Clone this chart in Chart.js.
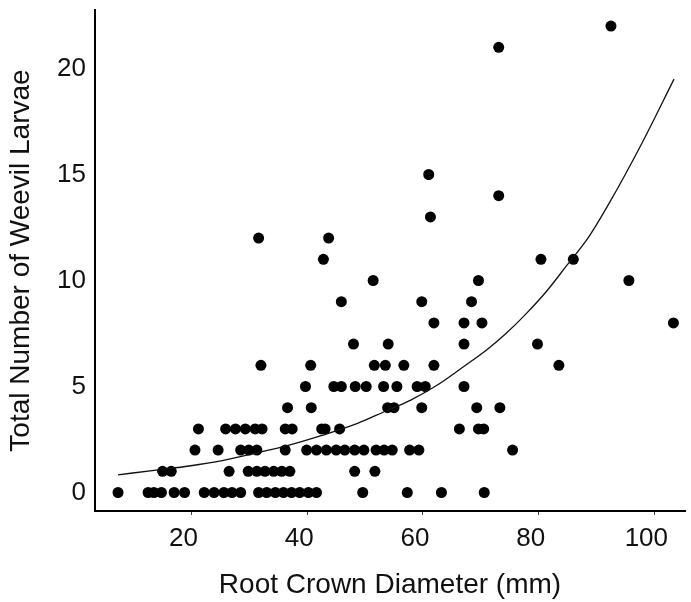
<!DOCTYPE html>
<html>
<head>
<meta charset="utf-8">
<title>Weevil larvae vs root crown diameter</title>
<script src="https://cdn.jsdelivr.net/npm/chart.js@4"></script>
<style>
    body { margin: 0; background: #fff; }
    #box { width: 691px; height: 602px; }
</style>
</head>
<body>
<div id="box"><canvas id="grafico"></canvas></div>
<script>
// Larvae counts (one row of dots per count) and the diameters read for each row
const larvaeLevels = [0, 1, 2, 3, 4, 5, 6, 7, 8, 9, 10, 11, 12, 13, 14, 15, 21, 22];
const diameterRows = [
    [7.3, 12.5, 13.5, 14.8, 17.0, 18.8, 22.2, 23.9, 25.6, 27.0, 28.5, 31.6, 33.0, 34.5, 35.9, 37.3, 38.7, 40.2, 41.6, 49.6, 57.3, 63.2, 70.6],
    [15.0, 16.5, 26.5, 29.8, 31.3, 32.7, 34.2, 35.6, 37.0, 48.2, 51.7],
    [20.6, 24.6, 28.5, 29.9, 31.3, 36.2, 39.9, 41.6, 43.3, 45.0, 46.5, 48.2, 49.8, 51.9, 53.3, 54.7, 57.7, 59.3, 75.5],
    [21.2, 25.9, 27.6, 29.3, 31.0, 32.2, 36.2, 37.4, 42.5, 43.1, 45.6, 66.3, 69.6, 70.5],
    [36.6, 40.7, 53.9, 55.0, 59.8, 69.3, 73.3],
    [39.7, 44.6, 45.9, 48.3, 50.2, 53.2, 55.5, 59.0, 60.4, 67.1],
    [32.0, 40.6, 51.6, 53.5, 56.7, 61.9, 83.5],
    [48.0, 54.0, 67.1, 79.8],
    [61.9, 67.1, 70.2, 103.3],
    [45.9, 59.8, 68.4],
    [51.4, 69.6, 95.6],
    [42.8, 80.4, 86.0],
    [31.6, 43.7],
    [61.3],
    [73.1],
    [61.0],
    [73.1],
    [92.5]
];

// Fitted curve
const fitX = [7.3, 13.9, 19.6, 25.3, 31.0, 36.7, 42.4, 48.7, 53.3, 57.9, 62.5, 67.0, 71.0, 74.4, 77.9, 81.3, 84.7, 88.7, 92.1, 97.9, 103.4];
const fitY = [0.83, 1.06, 1.25, 1.50, 1.85, 2.22, 2.68, 3.26, 3.81, 4.36, 5.07, 5.93, 6.72, 7.51, 8.45, 9.47, 10.65, 12.07, 13.6, 16.5, 19.5];

// Tick labels
const xTicks = [20, 40, 60, 80, 100];
const yTicks = [0, 5, 10, 15, 20];

const fonte = 'Liberation Sans, Arial, sans-serif';

function criarGrafico() {
    const pontos = [];
    diameterRows.forEach((linha, i) => {
        linha.forEach(d => pontos.push({ x: d, y: larvaeLevels[i] }));
    });
    const curva = fitX.map((x, i) => ({ x: x, y: fitY[i] }));

    const ctx = document.getElementById('grafico').getContext('2d');
    new Chart(ctx, {
        type: 'scatter',
        data: {
            datasets: [
                {
                    data: curva,
                    showLine: true,
                    borderColor: '#111',
                    borderWidth: 1.3,
                    pointRadius: 0,
                    cubicInterpolationMode: 'monotone'
                },
                {
                    data: pontos,
                    backgroundColor: '#000',
                    borderColor: '#000',
                    borderWidth: 0,
                    pointRadius: 5.5,
                    pointHoverRadius: 6
                }
            ]
        },
        options: {
            responsive: true,
            maintainAspectRatio: false,
            animation: false,
            layout: { padding: { top: 10, right: -3, left: 0, bottom: 0 } },
            plugins: {
                legend: { display: false },
                tooltip: { enabled: false }
            },
            scales: {
                x: {
                    type: 'linear',
                    min: 3.32,
                    max: 105.3,
                    afterFit: s => {
                        s.height = 91;
                        s.paddingLeft = 0;
                        s.paddingRight = 0;
                    },
                    afterBuildTicks: s => { s.ticks = xTicks.map(v => ({ value: v })); },
                    grid: {
                        display: true,
                        drawOnChartArea: false,
                        drawTicks: true,
                        tickLength: 4,
                        color: '#444',
                        lineWidth: 1
                    },
                    border: { display: true, color: '#000', width: 2 },
                    ticks: {
                        color: '#111',
                        padding: 8,
                        labelOffset: -8,
                        maxRotation: 0,
                        font: { family: fonte, size: 26 }
                    },
                    title: {
                        display: true,
                        text: 'Root Crown Diameter (mm)',
                        color: '#111',
                        padding: { top: 0, bottom: 0 },
                        font: { family: fonte, size: 28 }
                    }
                },
                y: {
                    type: 'linear',
                    min: -0.873,
                    max: 22.76,
                    afterFit: s => {
                        s.width = 95;
                        s.paddingTop = 0;
                        s.paddingBottom = 0;
                    },
                    afterBuildTicks: s => { s.ticks = yTicks.map(v => ({ value: v })); },
                    grid: { display: false, drawTicks: false },
                    border: { display: true, color: '#000', width: 2 },
                    ticks: {
                        color: '#111',
                        padding: 9,
                        font: { family: fonte, size: 26 }
                    },
                    title: {
                        display: true,
                        text: 'Total Number of Weevil Larvae',
                        color: '#111',
                        padding: { top: 4, bottom: 0 },
                        font: { family: fonte, size: 28 }
                    }
                }
            }
        }
    });
}

criarGrafico();
</script>
</body>
</html>
